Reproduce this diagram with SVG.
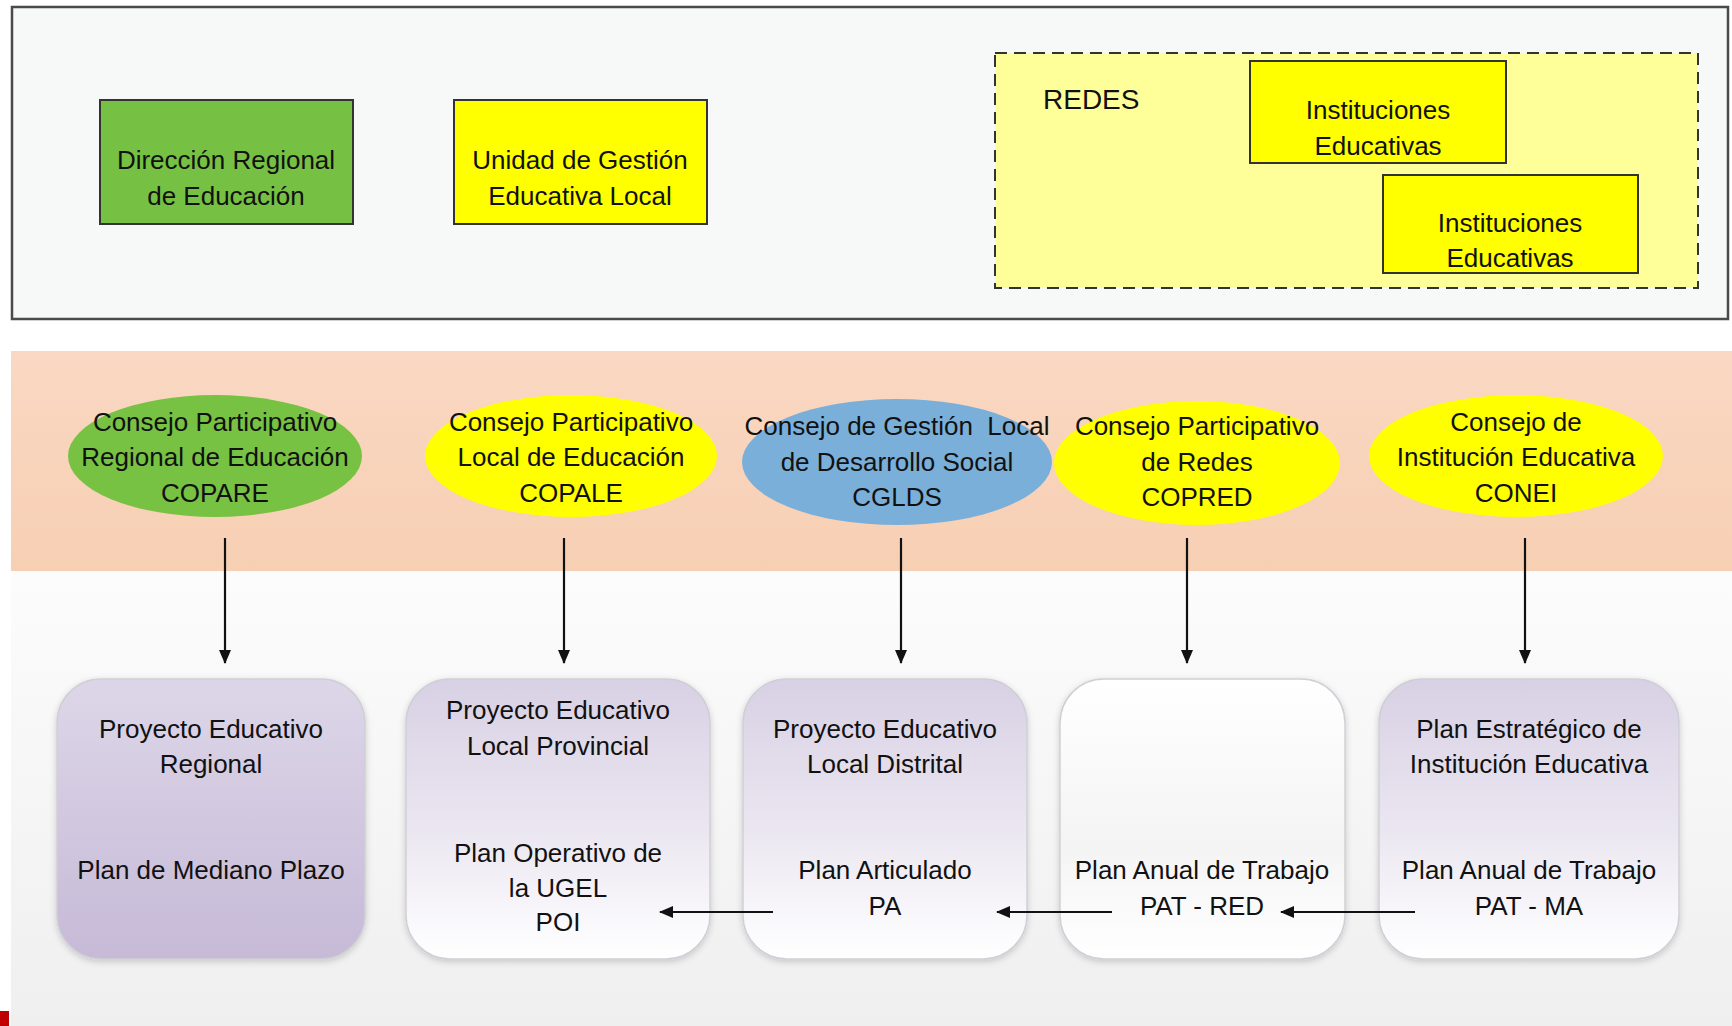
<svg xmlns="http://www.w3.org/2000/svg" width="1732" height="1026" viewBox="0 0 1732 1026">
<style>
text{font-family:"Liberation Sans",Arial,sans-serif;font-size:26px;fill:#111;text-anchor:middle}
.rect{stroke:#333;stroke-width:2}
.plan{stroke:#cfcfd6;stroke-width:1.5}
.conn{stroke:#111;stroke-width:2.2;fill:none}
</style>
<defs>
<marker id="ah" viewBox="0 0 14 12" refX="13" refY="6" markerWidth="14" markerHeight="12" markerUnits="userSpaceOnUse" orient="auto">
<path d="M0,0 L14,6 L0,12 z" fill="#111"/>
</marker>
<linearGradient id="lav" x1="0" y1="0" x2="0" y2="1">
<stop offset="0" stop-color="#ddd6e8"/><stop offset="1" stop-color="#c6bad7"/>
</linearGradient>
<linearGradient id="lavw" x1="0" y1="0" x2="0" y2="1">
<stop offset="0" stop-color="#d8d0e4"/><stop offset="0.55" stop-color="#ebe7f1"/><stop offset="1" stop-color="#ffffff"/>
</linearGradient>
<linearGradient id="wht" x1="0" y1="0" x2="0" y2="1">
<stop offset="0" stop-color="#ffffff"/><stop offset="0.6" stop-color="#f4f4f4"/><stop offset="1" stop-color="#ffffff"/>
</linearGradient>
<linearGradient id="bottombg" x1="0" y1="0" x2="0" y2="1">
<stop offset="0" stop-color="#fcfcfc"/><stop offset="1" stop-color="#efefef"/>
</linearGradient>
<linearGradient id="band" x1="0" y1="0" x2="0" y2="1">
<stop offset="0" stop-color="#fad8c3"/><stop offset="1" stop-color="#f7cfb3"/>
</linearGradient>
<filter id="sh" x="-10%" y="-10%" width="120%" height="120%">
<feDropShadow dx="0" dy="2" stdDeviation="3" flood-color="#000" flood-opacity="0.18"/>
</filter>
</defs>
<rect x="0" y="0" width="1732" height="1026" fill="#ffffff"/>
<rect x="11" y="571" width="1721" height="455" fill="url(#bottombg)"/>
<rect id="red-mark" x="0" y="1011" width="9" height="15" fill="#c00000"/>

<g id="top-panel">
<rect x="12" y="7" width="1716" height="312" fill="#f7f8f8" stroke="#4a4a4a" stroke-width="2.5"/>
</g>
<g id="dre">
<rect class="rect" x="100" y="100" width="253" height="124" fill="#76c143"/>
<text x="226" y="169">Dirección Regional</text>
<text x="226" y="205">de Educación</text>
</g>
<g id="ugel">
<rect class="rect" x="454" y="100" width="253" height="124" fill="#ffff00"/>
<text x="580" y="169">Unidad de Gestión</text>
<text x="580" y="205">Educativa Local</text>
</g>
<g id="redes">
<rect x="995" y="53" width="703" height="235" fill="#ffff99" stroke="#333" stroke-width="2" stroke-dasharray="12,7"/>
<text x="1043" y="109" style="text-anchor:start;font-size:28px">REDES</text>
</g>
<g id="ie1">
<rect class="rect" x="1250" y="61" width="256" height="102" fill="#ffff00"/>
<text x="1378" y="119">Instituciones</text>
<text x="1378" y="155">Educativas</text>
</g>
<g id="ie2">
<rect class="rect" x="1383" y="175" width="255" height="98" fill="#ffff00"/>
<text x="1510" y="232">Instituciones</text>
<text x="1510" y="267">Educativas</text>
</g>

<rect id="band-bg" x="11" y="351" width="1721" height="220" fill="url(#band)"/>

<g id="copare">
<ellipse cx="215" cy="456" rx="147" ry="61" fill="#77c143"/>
<text x="215" y="431">Consejo Participativo</text>
<text x="215" y="466">Regional de Educación</text>
<text x="215" y="502">COPARE</text>
</g>
<g id="copale">
<ellipse cx="571" cy="456" rx="146" ry="61" fill="#ffff00"/>
<text x="571" y="431">Consejo Participativo</text>
<text x="571" y="466">Local de Educación</text>
<text x="571" y="502">COPALE</text>
</g>
<g id="cglds">
<ellipse cx="897" cy="462" rx="155" ry="63" fill="#7aafd9"/>
<text x="897" y="435" style="white-space:pre">Consejo de Gestión  Local</text>
<text x="897" y="471">de Desarrollo Social</text>
<text x="897" y="506">CGLDS</text>
</g>
<g id="copred">
<ellipse cx="1197" cy="463" rx="143" ry="62" fill="#ffff00"/>
<text x="1197" y="435">Consejo Participativo</text>
<text x="1197" y="471">de Redes</text>
<text x="1197" y="506">COPRED</text>
</g>
<g id="conei">
<ellipse cx="1516" cy="456" rx="147" ry="61" fill="#ffff00"/>
<text x="1516" y="431">Consejo de</text>
<text x="1516" y="466">Institución Educativa</text>
<text x="1516" y="502">CONEI</text>
</g>

<g id="per">
<rect class="plan" x="57" y="679" width="308" height="280" rx="44" fill="url(#lav)" filter="url(#sh)"/>
<text x="211" y="738">Proyecto Educativo</text>
<text x="211" y="773">Regional</text>
<text x="211" y="879">Plan de Mediano Plazo</text>
</g>
<g id="pelp">
<rect class="plan" x="406" y="679" width="304" height="280" rx="44" fill="url(#lavw)" filter="url(#sh)"/>
<text x="558" y="719">Proyecto Educativo</text>
<text x="558" y="755">Local Provincial</text>
<text x="558" y="862">Plan Operativo de</text>
<text x="558" y="897">la UGEL</text>
<text x="558" y="931">POI</text>
</g>
<g id="peld">
<rect class="plan" x="743" y="679" width="284" height="280" rx="44" fill="url(#lavw)" filter="url(#sh)"/>
<text x="885" y="738">Proyecto Educativo</text>
<text x="885" y="773">Local Distrital</text>
<text x="885" y="879">Plan Articulado</text>
<text x="885" y="915">PA</text>
</g>
<g id="patred">
<rect class="plan" x="1060" y="679" width="285" height="280" rx="44" fill="url(#wht)" filter="url(#sh)"/>
<text x="1202" y="879">Plan Anual de Trabajo</text>
<text x="1202" y="915">PAT - RED</text>
</g>
<g id="pei">
<rect class="plan" x="1379" y="679" width="300" height="280" rx="44" fill="url(#lavw)" filter="url(#sh)"/>
<text x="1529" y="738">Plan Estratégico de</text>
<text x="1529" y="773">Institución Educativa</text>
<text x="1529" y="879">Plan Anual de Trabajo</text>
<text x="1529" y="915">PAT - MA</text>
</g>

<g id="connectors">
<line class="conn" x1="225" y1="538" x2="225" y2="663" marker-end="url(#ah)"/>
<line class="conn" x1="564" y1="538" x2="564" y2="663" marker-end="url(#ah)"/>
<line class="conn" x1="901" y1="538" x2="901" y2="663" marker-end="url(#ah)"/>
<line class="conn" x1="1187" y1="538" x2="1187" y2="663" marker-end="url(#ah)"/>
<line class="conn" x1="1525" y1="538" x2="1525" y2="663" marker-end="url(#ah)"/>
<line class="conn" x1="773" y1="912" x2="660" y2="912" marker-end="url(#ah)"/>
<line class="conn" x1="1112" y1="912" x2="997" y2="912" marker-end="url(#ah)"/>
<line class="conn" x1="1415" y1="912" x2="1281" y2="912" marker-end="url(#ah)"/>
</g>
</svg>
